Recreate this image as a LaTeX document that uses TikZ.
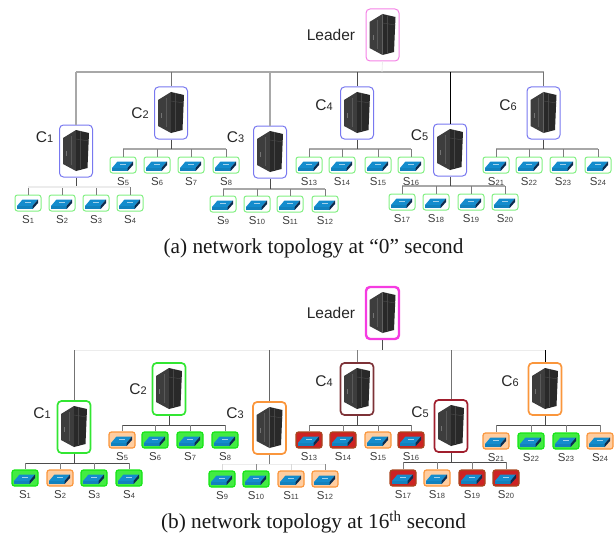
\documentclass[tikz,border=0pt]{standalone}
\usepackage{fontspec}
\setmainfont{Liberation Serif}
\newfontfamily\labelfont{Liberation Sans}
\definecolor{cblue}{RGB}{120,120,240}
\definecolor{cmag}{RGB}{245,130,230}
\definecolor{cmagb}{RGB}{245,60,225}
\definecolor{cgrn}{RGB}{130,240,130}
\definecolor{cgrnb}{RGB}{50,230,50}
\definecolor{corg}{RGB}{250,150,60}
\definecolor{cbrn}{RGB}{125,50,55}
\definecolor{cred}{RGB}{160,30,45}
\definecolor{swblue}{RGB}{20,140,205}
\definecolor{swside}{RGB}{12,45,80}
\definecolor{txt}{RGB}{60,60,60}
\definecolor{busg}{RGB}{168,168,168}
\definecolor{busl}{RGB}{236,236,236}
\definecolor{stub}{RGB}{125,125,125}
\definecolor{fillorg}{RGB}{255,205,160}
\definecolor{fillgrn}{RGB}{20,230,20}
\definecolor{fillred}{RGB}{205,35,35}
\definecolor{edgered}{RGB}{170,70,30}
\tikzset{
  srvbox/.style={draw=#1,line width=1pt,rounded corners=4pt,minimum width=33pt,minimum height=52pt,inner sep=0pt,fill=white},
  srvbox/.default=cblue,
  swbox/.style={draw=cgrn,line width=1pt,rounded corners=2.5pt,minimum width=26pt,minimum height=16pt,inner sep=0pt,fill=white},
  swg/.style={swbox,draw=fillgrn,fill=fillgrn!80!white,line width=1.2pt},
  swo/.style={swbox,draw=corg,fill=fillorg,line width=1.2pt},
  swr/.style={swbox,draw=edgered,fill=fillred,line width=1.2pt},
  clabel/.style={font=\labelfont,text=black!85,inner sep=0pt},
  slabel/.style={font=\labelfont,text=txt,inner sep=0pt},
  bus/.style={draw=busg,line width=2pt},
  sbus/.style={draw=busg,line width=1.1pt},
  lbus/.style={draw=busl,line width=1pt},
  dbus/.style={draw=black!70,line width=.8pt},
  stubl/.style={draw=stub,line width=.7pt},
  caption/.style={font=\fontsize{21.3}{21.3}\selectfont,inner sep=0pt,text=black!90},
  server/.pic={
    \fill[black!76] (-13,-13)--(0,-21)--(0,20)--(-13,13)--cycle;
    \fill[black!84] (0,-21)--(13,-18)--(11.5,17)--(0,20)--cycle;
    \draw[black!65,line width=.4pt] (-5,-15)--(-5,14);
    \draw[black!72,line width=.4pt] (4.5,-20)--(4.5,18);
    \draw[black!70,line width=.4pt] (0,-12)--(13,-10);
    \fill[black!55] (-10,0) rectangle (-9,5);
  },
  swicon/.pic={
    \fill[swblue] (-11,3)--(-5.5,-3.5)--(10,-3.5)--(4.5,3)--cycle;
    \fill[swblue!92!black] (-11,3)--(4.5,3)--(4.5,6.2)--(-11,6.2)--cycle;
    \fill[swside] (4.5,3)--(10,-3.5)--(10,0)--(4.5,6.2)--cycle;
    \draw[white!60!swblue,line width=.4pt] (-3,-1)--(3,-1);
  },
}
\newcommand{\CL}[1]{{\fontsize{15.5}{15.5}\selectfont C}{\fontsize{11}{11}\selectfont #1}}
\newcommand{\SL}[1]{{\fontsize{11.5}{11.5}\selectfont S}{\fontsize{7.5}{7.5}\selectfont #1}}
\begin{document}
\begin{tikzpicture}[x=1pt,y=-1pt]
\useasboundingbox (0,0) rectangle (616,535);
%% ---------- (a) ----------
\coordinate (busA) at (382,72);
\coordinate (bA1) at (76,187);
\coordinate (bA2) at (171,149);
\coordinate (bA3) at (270,189);
\coordinate (bA4) at (357,149);
\coordinate (bA5) at (450,186);
\coordinate (bA6) at (543,149);
\node[srvbox=cmag] (leadA) at (382.5,35) {};
\foreach \n/\x/\y in {cA1/76/151,cA2/171/113,cA3/270/152,cA4/357/113,cA5/450/150,cA6/543.5/113}
  \node[srvbox] (\n) at (\x,\y) {};
\foreach \n in {leadA,cA1,cA2,cA3,cA4,cA5,cA6}
  \pic at (\n) {server};
\foreach \n/\i/\x/\y in {
  sA1/1/28/203,sA2/2/62/203,sA3/3/96/203,sA4/4/130/203,
  sA5/5/123/165,sA6/6/157/165,sA7/7/191/165,sA8/8/226/165,
  sA9/9/223/204,sA10/10/257/204,sA11/11/290/204,sA12/12/325/204,
  sA13/13/309/165,sA14/14/342/165,sA15/15/378/165,sA16/16/411/165,
  sA17/17/402/202,sA18/18/436/202,sA19/19/471/202,sA20/20/505/202,
  sA21/21/496/165,sA22/22/529/165,sA23/23/563/165,sA24/24/598/165}{
  \node[swbox] (\n) at (\x,\y) {};
  \pic at (\n) {swicon};
  \node[slabel] (\n l) at ([yshift=-16.5pt]\n.center) {\SL{\i}};
}
\node[clabel] (tLA) at (331,35) {\fontsize{15.5}{15.5}\selectfont Leader};
\node[clabel] (tA1) at (44.5,137) {\CL{1}};
\node[clabel] (tA2) at (140,113) {\CL{2}};
\node[clabel] (tA3) at (235.5,137) {\CL{3}};
\node[clabel] (tA4) at (324,105) {\CL{4}};
\node[clabel] (tA5) at (419.5,135) {\CL{5}};
\node[clabel] (tA6) at (508,105) {\CL{6}};
% main bus
\draw[bus] (cA1.north |- busA) -- (cA6.north |- busA);
\draw[draw=busl,line width=.8pt] (leadA.south) -- (busA);
\draw[bus,line width=1.2pt] (cA1.north |- busA) -- (cA1.north);
\draw[draw=black!55,line width=1pt] (cA2.north |- busA) -- (cA2.north);
\draw[bus,line width=1.6pt] (cA3.north |- busA) -- (cA3.north);
\draw[draw=black!70,line width=.9pt] (cA4.north |- busA) -- (cA4.north);
\draw[draw=black,line width=1pt] (cA5.north |- busA) -- (cA5.north);
\draw[draw=black!55,line width=1pt] (cA6.north |- busA) -- (cA6.north);
% switch groups
\foreach \c/\b/\first/\last/\mid in {cA1/bA1/1/4/{2,3},cA2/bA2/5/8/{6,7},cA3/bA3/9/12/{10,11},cA4/bA4/13/16/{14,15},cA5/bA5/17/20/{18,19},cA6/bA6/21/24/{22,23}}{
  \draw[sbus] (sA\first.north |- \b) -- (sA\last.north |- \b);
  \draw[draw=black!70,line width=.9pt] (\c.south) -- (\c.south |- \b);
  \draw[stubl] (sA\first.north |- \b) -- (sA\first.north);
  \draw[stubl] (sA\last.north |- \b) -- (sA\last.north);
  \foreach \m in \mid {\draw[stubl] (sA\m.north |- \b) -- (sA\m.north);}
}
\draw[draw=busl,line width=1.1pt] (sA1.north |- bA1) -- (sA4.north |- bA1);
\node[caption] (capA) at (313.5,248) {(a) network topology at “0” second};
%% ---------- (b) ----------
\coordinate (busB) at (383,350);
\coordinate (bB1) at (74,463);
\coordinate (bB2) at (169,425);
\coordinate (bB3) at (269.5,464);
\coordinate (bB4) at (357.5,425);
\coordinate (bB5) at (451,462);
\coordinate (bB6) at (544,425);
\node[srvbox=cmagb,line width=2.4pt] (leadB) at (382.5,313) {};
\foreach \n/\x/\y/\c in {cB1/74/427/cgrnb,cB2/169/389/cgrnb,cB3/269.5/428/corg,cB4/357/389/cbrn,cB5/451/426/cred,cB6/545/389/corg}
  \node[srvbox=\c,line width=1.7pt] (\n) at (\x,\y) {};
\foreach \n in {leadB,cB1,cB2,cB3,cB4,cB5,cB6}
  \pic at (\n) {server};
\foreach \n/\i/\x/\y/\st in {
  sB1/1/25/478/swg,sB2/2/60/478/swo,sB3/3/94/478/swg,sB4/4/129/478/swg,
  sB5/5/122/440/swo,sB6/6/155/440/swg,sB7/7/190/440/swg,sB8/8/225/440/swg,
  sB9/9/222/479/swg,sB10/10/256/479/swg,sB11/11/291/479/swo,sB12/12/325/479/swo,
  sB13/13/309/440/swr,sB14/14/343/440/swr,sB15/15/378/440/swo,sB16/16/411/440/swr,
  sB17/17/403/478/swr,sB18/18/437/478/swo,sB19/19/472/478/swr,sB20/20/506/478/swr,
  sB21/21/496/441/swo,sB22/22/531/441/swg,sB23/23/566/441/swg,sB24/24/600/441/swo}{
  \node[\st] (\n) at (\x,\y) {};
  \pic at (\n) {swicon};
  \node[slabel] (\n l) at ([yshift=-16.5pt]\n.center) {\SL{\i}};
}
\node[clabel] (tLB) at (331,313) {\fontsize{15.5}{15.5}\selectfont Leader};
\node[clabel] (tB1) at (42,413) {\CL{1}};
\node[clabel] (tB2) at (138,389) {\CL{2}};
\node[clabel] (tB3) at (235,413) {\CL{3}};
\node[clabel] (tB4) at (324,381) {\CL{4}};
\node[clabel] (tB5) at (420,412) {\CL{5}};
\node[clabel] (tB6) at (510,381) {\CL{6}};
% main bus
\draw[lbus] (cB1.north |- busB) -- (cB6.north |- busB);
\draw[draw=black!70,line width=.8pt] (leadB.south) -- (leadB.south |- busB);
\draw[draw=black!55,line width=1pt] (cB1.north |- busB) -- (cB1.north);
\draw[draw=black!60,line width=1pt] (cB3.north |- busB) -- (cB3.north);
\draw[draw=black!50,line width=1pt] (cB4.north |- busB) -- (cB4.north);
\draw[draw=black!55,line width=1pt] (cB5.north |- busB) -- (cB5.north);
\draw[draw=black,line width=.9pt] (cB6.north |- busB) -- (cB6.north);
% switch groups
\foreach \c/\b/\first/\last/\mid in {cB1/bB1/1/4/{2,3},cB2/bB2/5/8/{6,7},cB4/bB4/13/16/{14,15},cB5/bB5/17/20/{18,19},cB6/bB6/21/24/{22,23}}{
  \draw[dbus] (sB\first.north |- \b) -- (sB\last.north |- \b);
  \draw[dbus] (\c.south) -- (\c.south |- \b);
  \draw[stubl] (sB\first.north |- \b) -- (sB\first.north);
  \draw[stubl] (sB\last.north |- \b) -- (sB\last.north);
  \foreach \m in \mid {\draw[stubl] (sB\m.north |- \b) -- (sB\m.north);}
}
% C3 group: bus almost vanished
\draw[lbus] (sB9.north |- bB3) -- (sB12.north |- bB3);
\draw[draw=black!50,line width=.8pt] (cB3.south) -- (bB3);
\draw[draw=black!15,line width=.7pt] (sB9.north |- bB3) -- (sB9.north);
\draw[draw=black!45,line width=.7pt] (sB10.north |- bB3) -- (sB10.north);
\draw[draw=black!15,line width=.7pt] (sB11.north |- bB3) -- (sB11.north);
\draw[draw=black!45,line width=.7pt] (sB12.north |- bB3) -- (sB12.north);
\node[caption] (capB) at (313.5,522) {(b) network topology at 16\textsuperscript{th} second};
\end{tikzpicture}
\end{document}
